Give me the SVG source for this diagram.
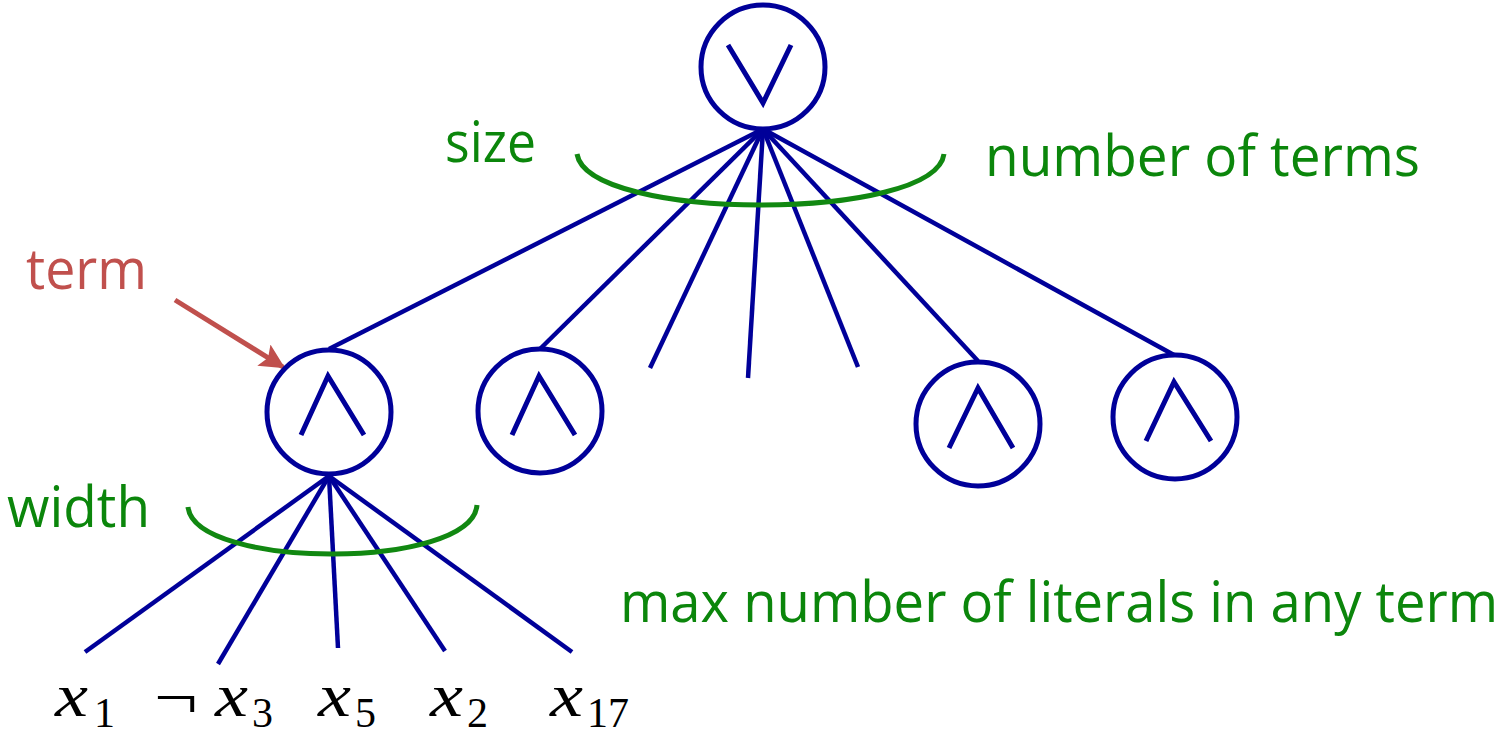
<svg xmlns="http://www.w3.org/2000/svg" width="1511" height="736" viewBox="0 0 1511 736">
<defs>
<style>
.node{fill:#fff;stroke:#000099;stroke-width:5}
.op{fill:none;stroke:#000099;stroke-width:5;stroke-linejoin:miter}
.edge{stroke:#000099;stroke-width:4.5;fill:none}
.arc{fill:none;stroke:#118811;stroke-width:5}
.lbl{font-family:"Open Sans","Liberation Sans",sans-serif;font-size:57px;fill:#0b860b}
.red{fill:#c0504d}
.math{font-family:"Liberation Serif",serif;font-size:62px;font-style:italic;fill:#000}
.sub{font-family:"Liberation Serif",serif;font-size:42px;fill:#000}
</style>
<marker id="ah" viewBox="0 0 10 10" refX="9" refY="5" markerWidth="5" markerHeight="5" orient="auto" markerUnits="strokeWidth">
<path d="M0,0 L10,5 L0,10 L2,5 Z" fill="#c0504d"/>
</marker>
</defs>
<rect width="1511" height="736" fill="#fff"/>
<g id="connectors">
<line class="edge" x1="763" y1="129" x2="329" y2="349"/>
<line class="edge" x1="763" y1="129" x2="540" y2="349"/>
<line class="edge" x1="763" y1="129" x2="650" y2="368"/>
<line class="edge" x1="763" y1="129" x2="748" y2="378"/>
<line class="edge" x1="763" y1="129" x2="858" y2="367"/>
<line class="edge" x1="763" y1="129" x2="978" y2="361"/>
<line class="edge" x1="763" y1="129" x2="1174" y2="355"/>
<line class="edge" x1="329" y1="476" x2="85" y2="652"/>
<line class="edge" x1="329" y1="476" x2="218" y2="664"/>
<line class="edge" x1="329" y1="476" x2="338" y2="648"/>
<line class="edge" x1="329" y1="476" x2="445" y2="651"/>
<line class="edge" x1="329" y1="476" x2="572" y2="652"/>
<path d="M175,300 L283,367" stroke="#c0504d" stroke-width="5" fill="none" marker-end="url(#ah)"/>
</g>
<g id="node-or">
<circle class="node" cx="763" cy="67" r="62"/>
<polyline class="op" points="728,45 763,103 791,45"/>
</g>
<g id="node-and1">
<circle class="node" cx="329" cy="412" r="62"/>
<polyline class="op" points="301,435 328,376 364,435"/>
</g>
<g id="node-and2">
<circle class="node" cx="540" cy="411" r="62"/>
<polyline class="op" points="512,435 539,376 575,435"/>
</g>
<g id="node-and3">
<circle class="node" cx="978" cy="424" r="62"/>
<polyline class="op" points="949,448 978,388 1013,448"/>
</g>
<g id="node-and4">
<circle class="node" cx="1175" cy="417" r="62"/>
<polyline class="op" points="1146,441 1174,382 1211,441"/>
</g>
<g id="arcs">
<path class="arc" d="M577,154 C588,222 935,222 944,154"/>
<path class="arc" d="M188,507 C195,570 472,570 477,505"/>
</g>
<g id="labels">
<text class="lbl" x="445" y="162" textLength="91" lengthAdjust="spacingAndGlyphs">size</text>
<text class="lbl" x="985" y="176" textLength="435" lengthAdjust="spacingAndGlyphs">number of terms</text>
<text class="lbl red" x="26" y="289" textLength="121" lengthAdjust="spacingAndGlyphs">term</text>
<text class="lbl" x="7" y="527" textLength="143" lengthAdjust="spacingAndGlyphs">width</text>
<text class="lbl" transform="translate(620,622) scale(0.83,1)" x="0" y="0" textLength="1058" lengthAdjust="spacingAndGlyphs">max number of literals in any term</text>
</g>
<g id="literals">
<text class="math" x="55" y="716" textLength="33" lengthAdjust="spacingAndGlyphs">x</text><text class="sub" x="94" y="727">1</text>
<text x="154" y="718" textLength="44" lengthAdjust="spacingAndGlyphs" style="font-family:'Liberation Serif',serif;font-size:62px">¬</text>
<text class="math" x="215" y="716" textLength="33" lengthAdjust="spacingAndGlyphs">x</text><text class="sub" x="252" y="727">3</text>
<text class="math" x="318" y="716" textLength="33" lengthAdjust="spacingAndGlyphs">x</text><text class="sub" x="355" y="727">5</text>
<text class="math" x="430" y="716" textLength="33" lengthAdjust="spacingAndGlyphs">x</text><text class="sub" x="467" y="727">2</text>
<text class="math" x="550" y="716" textLength="33" lengthAdjust="spacingAndGlyphs">x</text><text class="sub" x="587" y="727">17</text>
</g>
</svg>
